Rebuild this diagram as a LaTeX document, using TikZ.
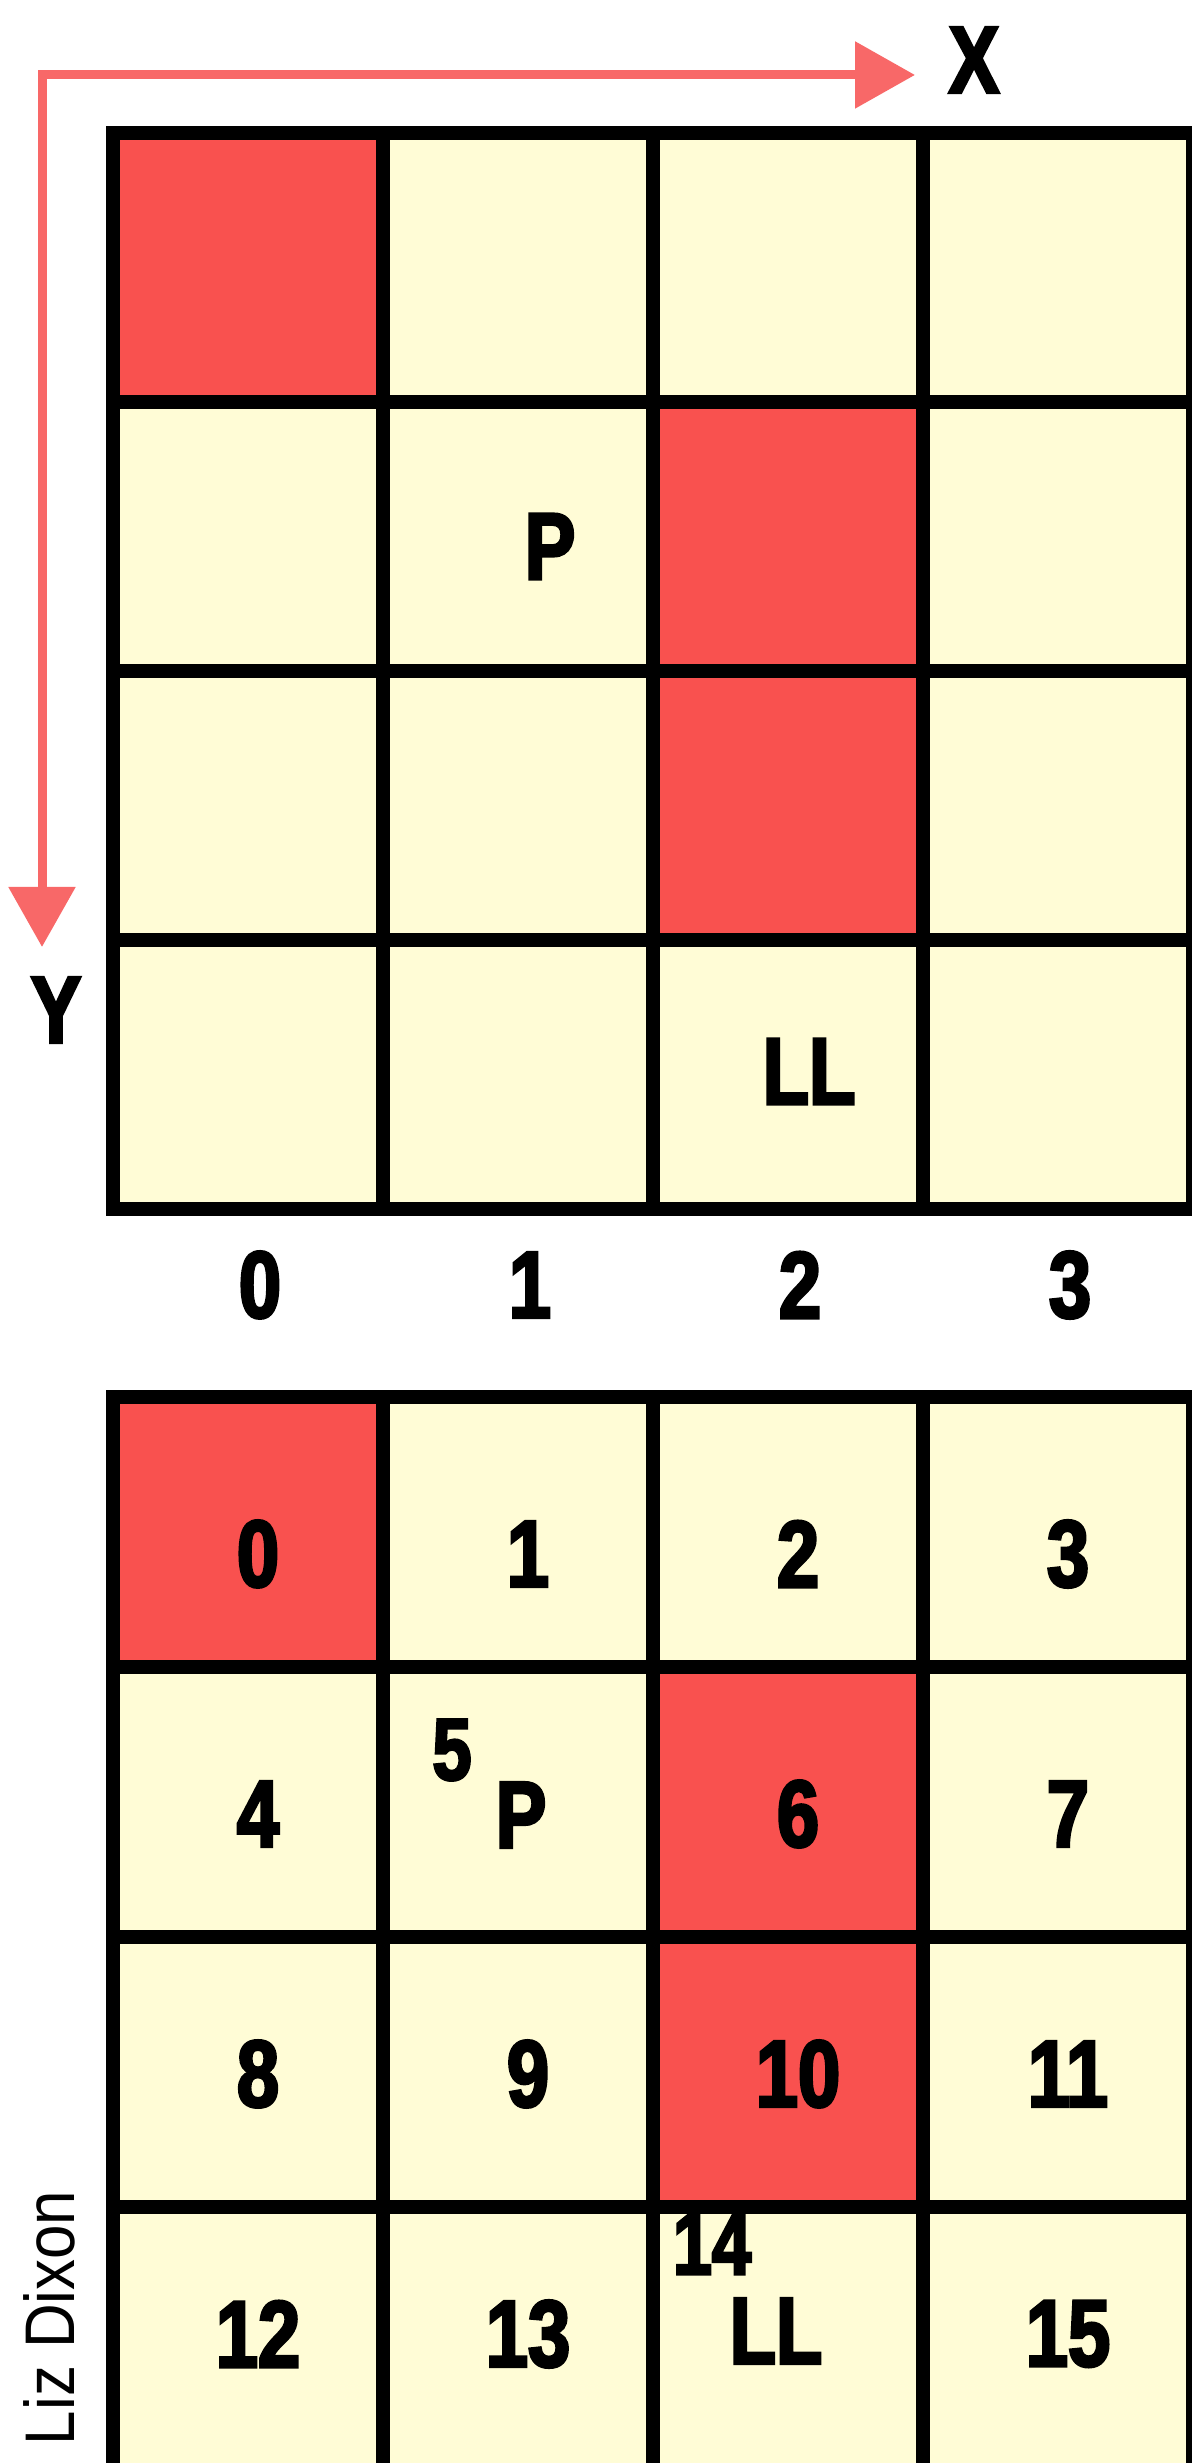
\documentclass[tikz,border=0pt]{standalone}
\usepackage{fontspec}
\usepackage{tikz}
\usetikzlibrary{arrows.meta,calc,positioning}
\newfontfamily\gridfont[FakeStretch=0.80,BoldFeatures={FakeBold=3}]{Liberation Sans}
\newfontfamily\creditfont[FakeStretch=0.88]{Liberation Sans}
\definecolor{cellcream}{HTML}{FFFCD6}
\definecolor{cellred}{HTML}{F9514F}
\definecolor{axisred}{HTML}{F86868}

\begin{document}
\begin{tikzpicture}[>={Triangle[length=6mm,width=6.5mm]},line join=miter,
  cell/.style={draw=black,line width=1.4mm,fill=cellcream,inner sep=0pt,outer sep=0pt,
    minimum width=2.70cm,minimum height=2.69cm},
  lowcell/.style={cell,minimum height=2.70cm},
  lab/.style={inner sep=0pt,font=\gridfont\bfseries\fontsize{27}{27}\selectfont},
  small/.style={lab,font=\gridfont\bfseries\fontsize{25}{25}\selectfont},
  axis/.style={axisred,line width=0.9mm}]
\path[use as bounding box] (0,0) rectangle (11.91,24.63);
\fill[white] (0,0) rectangle (11.91,24.63);

% upper grid: cells by position, x to the right and y downwards
\foreach \i in {0,...,15}
  \node[cell] (t\i) at ({2.48+2.70*mod(\i,4)},{21.955-2.69*int(\i/4)}) {};
\foreach \i in {0,6,10}
  \node[cell,fill=cellred] (th\i) at (t\i) {};
\node[lab] (tp) at ($(t5)+(0.32,-0.10)$) {P};
\node[lab] (tll) at ($(t14)+(0.21,0.03)$) {LL};
\foreach \c [evaluate=\c as \k using int(12+\c)] in {0,...,3}
  \node[lab] (col\c) at ($(t\k.south)+(0.12,-0.76)$) {\c};

% axes
\coordinate (corner) at (0.42,23.88);
\coordinate (xtip) at (9.15,23.88);
\coordinate (ytip) at (0.42,15.16);
\draw[axis,<->] (xtip) -- (corner) -- (ytip);
\node[lab] (xl) at (9.74,24.03) {X};
\node[lab] (yl) at (0.56,14.53) {Y};

% lower grid: the same cells numbered 0 to 15
\foreach \i in {0,...,15}
  \node[lowcell] (b\i) at ({2.48+2.70*mod(\i,4)},{9.31-2.70*int(\i/4)}) {};
\foreach \i in {0,6,10}
  \node[lowcell,fill=cellred] (bh\i) at (b\i) {};
\foreach \i [evaluate=\i as \dy using 0.1*int(\i/4)-0.22]
    in {0,1,2,3,4,6,7,8,9,10,11,12,13,15}
  \node[lab] (n\i) at ($(b\i)+(0.10,\dy)$) {\i};
\node[small] (n5) at ($(b5)+(-0.66,0.52)$) {5};
\node[lab] (bp) at ($(b5)+(0.03,-0.13)$) {P};
\node[small] (n14) at ($(b14)+(-0.76,0.98)$) {14};
\node[lab] (bll) at ($(b14)+(-0.12,0.11)$) {LL};

\node[rotate=90,anchor=base east,inner sep=0pt,
  font=\creditfont\fontsize{20}{20}\selectfont] (credit) at (0.74,2.73) {Liz Dixon};
\end{tikzpicture}
\end{document}
